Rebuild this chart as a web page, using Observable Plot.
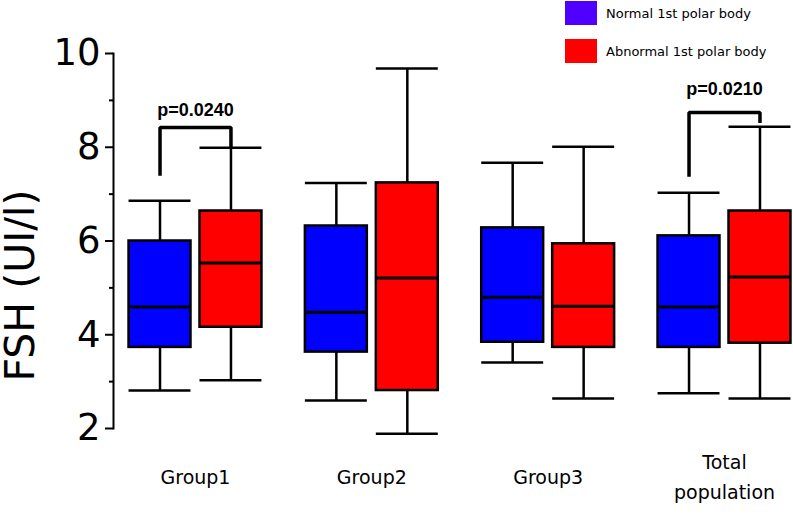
<!DOCTYPE html>
<html><head><meta charset="utf-8">
<script src="https://cdn.jsdelivr.net/npm/d3@7"></script>
<script src="https://cdn.jsdelivr.net/npm/@observablehq/plot@0.6"></script>
<style>
body{margin:0;background:#fff;}
#wrap{position:relative;width:793px;height:515px;overflow:hidden;}
#wrap svg{position:absolute;left:0;top:0;}
.leg{position:absolute;left:565px;font-family:"DejaVu Sans",sans-serif;font-size:13px;color:#000;display:flex;align-items:center;white-space:nowrap;}
.leg .sw{width:32px;height:24px;margin-right:9px;}
</style></head><body>
<div id="wrap"></div>
<script>
const groups = ["Group1", "Group2", "Group3", "Total population"];
const groupLabels = ["Group1", "Group2", "Group3", "Total\npopulation"];
const types = ["Normal 1st polar body", "Abnormal 1st polar body"];
const boxColors = ["#0000ff", "#ff0000"];
const legendColors = ["#5000ff", "#ff0000"];
// values per group: [normal, abnormal]
const whiskerLow  = [[2.81, 3.03], [2.60, 1.89], [3.41, 2.64], [2.75, 2.64]];
const q1          = [[3.73, 4.16], [3.63, 2.81], [3.84, 3.73], [3.73, 3.82]];
const median      = [[4.59, 5.53], [4.48, 5.21], [4.80, 4.61], [4.59, 5.23]];
const q3          = [[6.00, 6.64], [6.32, 7.24], [6.28, 5.94], [6.11, 6.64]];
const whiskerHigh = [[6.86, 7.99], [7.24, 9.68], [7.67, 8.01], [7.03, 8.44]];
// significance brackets
const pGroups = ["Group1", "Total population"];
const pLabels = ["p=0.0240", "p=0.0210"];
const pTextY = [8.80, 9.23];
const bracketTop = [8.42, 8.74];
const bracketLeftEnd = [7.39, 7.37];
const bracketRightEnd = [7.99, 8.52];
const yMajorTicks = [2, 4, 6, 8, 10];
const yMinorTicks = [3, 5, 7, 9];
const yLabel = "FSH (UI/l)";
const yLabelPos = 5.05;

const boxes = [];
groups.forEach((g, i) => types.forEach((t, j) => boxes.push({
  group: g, type: t, lo: whiskerLow[i][j], q1: q1[i][j], med: median[i][j], q3: q3[i][j], hi: whiskerHigh[i][j]
})));
const bracketPts = [];
pGroups.forEach((g, i) => {
  bracketPts.push({group: g, type: types[0], y: bracketLeftEnd[i]});
  bracketPts.push({group: g, type: types[0], y: bracketTop[i]});
  bracketPts.push({group: g, type: types[1], y: bracketTop[i]});
  bracketPts.push({group: g, type: types[1], y: bracketRightEnd[i]});
});
const pTexts = pGroups.map((g, i) => ({group: g, label: pLabels[i], y: pTextY[i]}));
const groupText = groups.map((g, i) => ({group: g, label: groupLabels[i]}));

const chart = Plot.plot({
  width: 793, height: 515,
  marginTop: 53, marginBottom: 87, marginLeft: 113, marginRight: -13,
  style: {fontFamily: "DejaVu Sans, sans-serif", background: "white", overflow: "visible"},
  fx: {domain: groups, paddingInner: 0.07, paddingOuter: 0, round: false, axis: null, label: null},
  x: {domain: types, paddingInner: 0.127, paddingOuter: 0.219, round: false, axis: null, label: null},
  y: {domain: [2, 10], label: null},
  color: {domain: types, range: boxColors},
  marks: [
    Plot.frame({anchor: "left", facetAnchor: "left", strokeWidth: 2}),
    Plot.axisY({ticks: yMajorTicks, tickSize: 8, tickPadding: 5, fontSize: 37, strokeWidth: 2, label: null}),
    Plot.axisY({ticks: yMinorTicks, tickSize: 4, tickFormat: () => "", strokeWidth: 2, label: null}),
    Plot.text([yLabel], {text: d => d, y: [yLabelPos], frameAnchor: "left", textAnchor: "middle", dx: -93, rotate: -90, fontSize: 41, facetAnchor: "left"}),
    Plot.ruleX(boxes, {fx: "group", x: "type", y1: "lo", y2: "hi", stroke: "black", strokeWidth: 2.5}),
    Plot.tickY(boxes, {fx: "group", x: "type", y: "lo", stroke: "black", strokeWidth: 2.5}),
    Plot.tickY(boxes, {fx: "group", x: "type", y: "hi", stroke: "black", strokeWidth: 2.5}),
    Plot.barY(boxes, {fx: "group", x: "type", y1: "q1", y2: "q3", fill: "type", stroke: "black", strokeWidth: 2.5}),
    Plot.tickY(boxes, {fx: "group", x: "type", y: "med", stroke: "black", strokeWidth: 3}),
    Plot.line(bracketPts, {fx: "group", x: "type", y: "y", z: "group", stroke: "black", strokeWidth: 3.5, strokeLinejoin: "miter", strokeLinecap: "butt"}),
    Plot.text(pTexts, {fx: "group", y: "y", text: "label", fontSize: 18, fontWeight: "bold", fontFamily: "Liberation Sans, Arial, sans-serif"}),
    Plot.text(groupText, {fx: "group", text: "label", frameAnchor: "bottom", dy: 46, lineAnchor: "middle", lineHeight: 1.55, fontSize: 19})
  ]
});
const wrap = document.getElementById("wrap");
wrap.appendChild(chart);
types.forEach((t, i) => {
  const d = document.createElement("div");
  d.className = "leg";
  d.style.top = (1 + i * 38) + "px";
  d.innerHTML = `<div class="sw" style="background:${legendColors[i]}"></div><span>${t}</span>`;
  wrap.appendChild(d);
});
</script>
</body></html>
